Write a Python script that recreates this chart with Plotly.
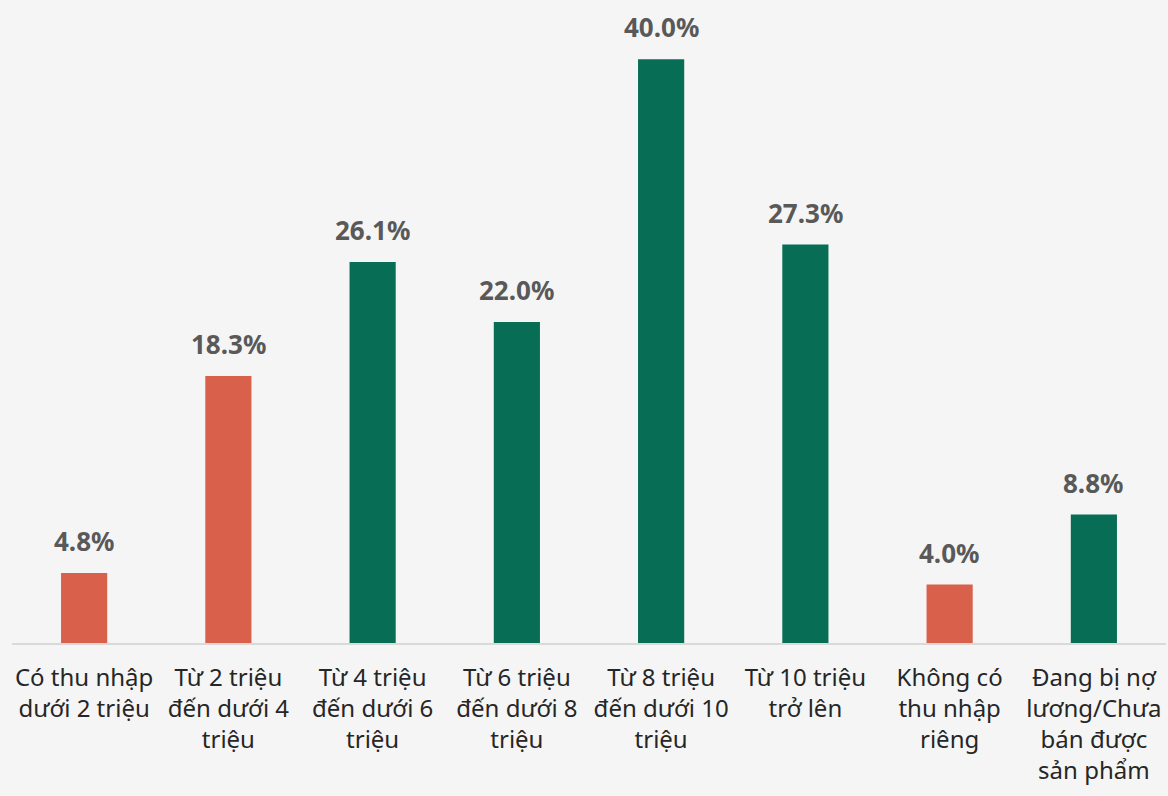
import plotly.graph_objects as go

categories = [
    "Có thu nhập<br>dưới 2 triệu",
    "Từ 2 triệu<br>đến dưới 4<br>triệu",
    "Từ 4 triệu<br>đến dưới 6<br>triệu",
    "Từ 6 triệu<br>đến dưới 8<br>triệu",
    "Từ 8 triệu<br>đến dưới 10<br>triệu",
    "Từ 10 triệu<br>trở lên",
    "Không có<br>thu nhập<br>riêng",
    "Đang bị nợ<br>lương/Chưa<br>bán được<br>sản phẩm",
]
values = [4.8, 18.3, 26.1, 22.0, 40.0, 27.3, 4.0, 8.8]
groups = ["low", "low", "high", "high", "high", "high", "low", "high"]

color_map = {"low": "#D9604A", "high": "#076D54"}
colors = [color_map[g] for g in groups]

fig = go.Figure(
    go.Bar(
        x=categories,
        y=values,
        marker=dict(color=colors, line=dict(width=0)),
        width=0.32,
    )
)

for c, v in zip(categories, values):
    fig.add_annotation(
        x=c, y=v, text=f"{v:.1f}%", showarrow=False,
        yanchor="bottom", yshift=12,
        font=dict(family="Noto Sans", size=26, color="#595959", weight="bold"),
    )

fig.update_layout(
    width=1168,
    height=796,
    margin=dict(l=12, r=2, t=30, b=153),
    paper_bgcolor="#F5F5F5",
    plot_bgcolor="#F5F5F5",
    showlegend=False,
    font=dict(family="Noto Sans", size=24, color="#262626"),
)
fig.update_xaxes(
    showline=True,
    linecolor="#D9D9D9",
    linewidth=1.5,
    ticks="",
    showgrid=False,
    ticklabelstandoff=12,
    tickfont=dict(size=24, color="#262626"),
)
fig.update_yaxes(range=[0, 42], visible=False, showgrid=False, zeroline=False)

fig.write_html(
    "out.html",
    config={"displayModeBar": False},
    post_script="document.body.style.margin='0';document.body.style.background='#F5F5F5';",
)
